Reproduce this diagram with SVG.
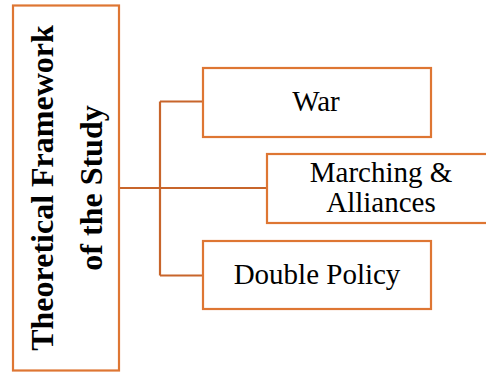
<svg xmlns="http://www.w3.org/2000/svg" width="486" height="372" viewBox="0 0 486 372">
<style>
.box{fill:#fff;stroke:#DE7633;stroke-width:2.2}
.con{fill:none;stroke:#C8652B;stroke-width:2.2}
.t{font-family:"Liberation Serif","Times New Roman",serif;font-size:29px;fill:#000;text-anchor:middle}
.tb{font-family:"Liberation Serif","Times New Roman",serif;font-size:32px;font-weight:bold;fill:#000;text-anchor:middle}
</style>
<rect width="486" height="372" fill="#fff"/>
<g id="connectors">
<path class="con" d="M120 188H267"/>
<path class="con" d="M160 101.5V275.5"/>
<path class="con" d="M160 101.5H203"/>
<path class="con" d="M160 275.5H203"/>
</g>
<g id="framework">
<rect class="box" x="13" y="5.5" width="106" height="365"/>
<text class="tb" transform="translate(53,188) rotate(-90)">Theoretical Framework</text>
<text class="tb" transform="translate(102,188) rotate(-90)">of the Study</text>
</g>
<g id="war">
<rect class="box" x="203" y="68" width="228" height="69"/>
<text class="t" x="316" y="111">War</text>
</g>
<g id="marching">
<rect class="box" x="267" y="154" width="232" height="69"/>
<text class="t" x="381" y="182">Marching &amp;</text>
<text class="t" x="381" y="212">Alliances</text>
</g>
<g id="double">
<rect class="box" x="203" y="241" width="228" height="68"/>
<text class="t" x="317" y="284">Double Policy</text>
</g>
</svg>
